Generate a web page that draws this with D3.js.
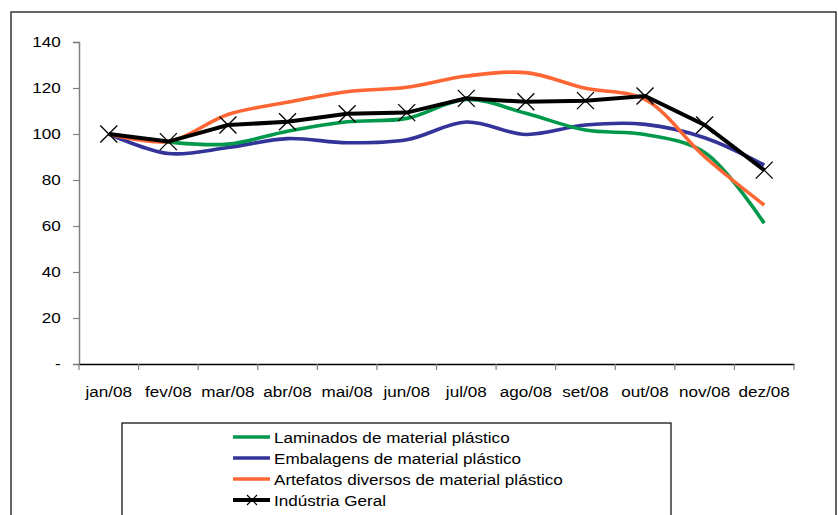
<!DOCTYPE html>
<html><head><meta charset="utf-8">
<script src="https://cdn.jsdelivr.net/npm/d3@7"></script>
<style>body{margin:0;background:#fff}svg{display:block}text{font-family:"Liberation Sans",Arial,sans-serif;fill:#000}</style>
</head><body><svg id="c" width="838" height="515"></svg>
<script>
const months = ["jan/08","fev/08","mar/08","abr/08","mai/08","jun/08","jul/08","ago/08","set/08","out/08","nov/08","dez/08"];
const laminados = [100,96.5,95.6,101.2,105.3,106.8,115,109,101.7,99.8,92,61.2];
const embalagens = [100,91.5,94.1,98,96.2,97.5,105.2,99.8,103.9,104.2,98.4,86.5];
const artefatos = [100,96.8,108.5,113.8,118.4,120.3,125.2,126.7,119.9,115,90.1,69.1];
const industria = [100,96.7,103.9,105.3,108.8,109.3,115.5,114,114.5,116.5,103.9,84.3];
const yTicks = [0,20,40,60,80,100,120,140];
const seriesNames = ["Laminados de material plástico","Embalagens de material plástico","Artefatos diversos de material plástico","Indústria Geral"];
const colors = ["#00994C","#333399","#FF6633","#000000"];
const SX = 1.14;

const svg = d3.select("#c");
svg.append("rect").attr("x",11).attr("y",12).attr("width",825).attr("height",520)
  .attr("fill","none").attr("stroke","#333").attr("stroke-width",1.5);

const x = d3.scaleBand().domain(months).range([79,794]);
const y = d3.scaleLinear().domain([0,140]).range([364,42]);

// y axis
const ya = svg.append("g").attr("transform","translate(79,0)")
  .call(d3.axisLeft(y).tickValues(yTicks).tickSize(6).tickPadding(10).tickFormat(d=>d===0?"-":d));
ya.select(".domain").attr("stroke","#808080").attr("stroke-width",1.5);
ya.selectAll(".tick line").attr("stroke","#808080").attr("stroke-width",1.2);
ya.selectAll("text").style("font-size","15px").attr("fill","#000").attr("transform",`scale(${SX},1)`);

// x axis
const xa = svg.append("g").attr("transform","translate(0,364)")
  .call(d3.axisBottom(x).tickSize(0).tickPadding(22));
xa.select(".domain").attr("stroke","#000").attr("stroke-width",1.5);
xa.selectAll("text").style("font-size","15px").attr("fill","#000").attr("transform",`scale(${SX},1)`);
const bounds = months.map(m=>x(m)).concat([x.range()[1]]);
svg.append("g").selectAll("line").data(bounds).join("line")
  .attr("x1",d=>d).attr("x2",d=>d).attr("y1",364).attr("y2",370)
  .attr("stroke","#808080").attr("stroke-width",1.2);

const cx = m => x(m)+x.bandwidth()/2;
const smooth = d3.line().x((d,i)=>cx(months[i])).y(d=>y(d)).curve(d3.curveCatmullRom.alpha(0.5));
const straight = d3.line().x((d,i)=>cx(months[i])).y(d=>y(d));

[[embalagens,colors[1]],[laminados,colors[0]],[artefatos,colors[2]]].forEach(([s,c])=>{
  svg.append("path").attr("d",smooth(s)).attr("fill","none").attr("stroke",c).attr("stroke-width",3.6);
});
svg.append("path").attr("d",straight(industria)).attr("fill","none").attr("stroke","#000").attr("stroke-width",4);
const mk = 8.5;
svg.append("g").selectAll("path").data(industria).join("path")
  .attr("d",(d,i)=>{const px=cx(months[i]),py=y(d);return `M${px-mk},${py-mk}L${px+mk},${py+mk}M${px-mk},${py+mk}L${px+mk},${py-mk}`;})
  .attr("stroke","#000").attr("stroke-width",1.3).attr("fill","none");

// legend
svg.append("rect").attr("x",122).attr("y",423).attr("width",549).attr("height",120)
  .attr("fill","#fff").attr("stroke","#000").attr("stroke-width",1.2);
const lg = svg.append("g").selectAll("g").data(seriesNames).join("g")
  .attr("transform",(d,i)=>`translate(0,${437+i*21})`);
lg.append("line").attr("x1",233).attr("x2",270).attr("y1",0).attr("y2",0)
  .attr("stroke",(d,i)=>colors[i]).attr("stroke-width",(d,i)=>i===3?4:3.6);
lg.filter((d,i)=>i===3).append("path").attr("d","M247,-5L257,5M247,5L257,-5").attr("stroke","#000").attr("stroke-width",1.2);
lg.append("text").attr("transform",`translate(274,5.5) scale(${SX},1)`).style("font-size","15px").text(d=>d);
</script></body></html>
